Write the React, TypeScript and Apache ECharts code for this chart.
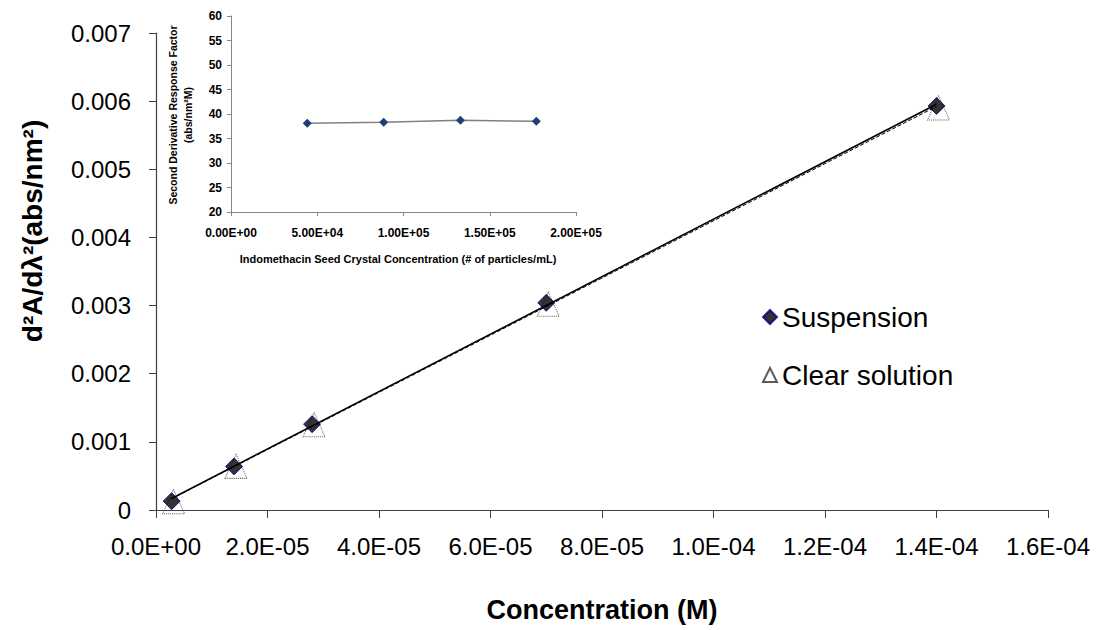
import React, { useEffect, useRef } from "react";
import * as echarts from "echarts";

// Main chart data
const concentrations = [2.8e-6, 1.4e-5, 2.8e-5, 7.0e-5, 1.4e-4];
const suspensionValues = [0.00013, 0.00064, 0.00126, 0.00304, 0.00593];
const clearSolutionValues = [0.00012, 0.00064, 0.00125, 0.00302, 0.0059];
const xTickLabels = ["0.0E+00", "2.0E-05", "4.0E-05", "6.0E-05", "8.0E-05", "1.0E-04", "1.2E-04", "1.4E-04", "1.6E-04"];
const yTickLabels = ["0", "0.001", "0.002", "0.003", "0.004", "0.005", "0.006", "0.007"];

// Inset data
const seedConcentrations = [44200, 88500, 133000, 177000];
const responseFactors = [38.1, 38.3, 38.7, 38.5];
const insetXTickLabels = ["0.00E+00", "5.00E+04", "1.00E+05", "1.50E+05", "2.00E+05"];
const insetYTickLabels = ["20", "25", "30", "35", "40", "45", "50", "55", "60"];

function fitLine(xs: number[], ys: number[]): number[][] {
  const n = xs.length;
  const mx = xs.reduce((a, b) => a + b, 0) / n;
  const my = ys.reduce((a, b) => a + b, 0) / n;
  let sxy = 0, sxx = 0;
  for (let i = 0; i < n; i++) {
    sxy += (xs[i] - mx) * (ys[i] - my);
    sxx += (xs[i] - mx) * (xs[i] - mx);
  }
  const b = sxy / sxx;
  const a = my - b * mx;
  const x0 = xs[0], x1 = xs[n - 1];
  return [[x0, a + b * x0], [x1, a + b * x1]];
}

const FONT = "Liberation Sans, Arial, sans-serif";

export default function App() {
  const ref = useRef<HTMLDivElement>(null);
  useEffect(() => {
    if (!ref.current) return;
    const chart = echarts.init(ref.current, undefined, { renderer: "svg" });
    const option: any = {
      animation: false,
      backgroundColor: "#ffffff",
      textStyle: { fontFamily: FONT },
      grid: [
        { left: 156, top: 33, width: 892, height: 477, containLabel: false },
        { left: 231, top: 16, width: 345, height: 196, containLabel: false },
      ],
      xAxis: [
        {
          type: "value", gridIndex: 0, min: 0, max: 1.6e-4, interval: 2e-5,
          splitLine: { show: false },
          axisLine: { show: true, lineStyle: { color: "#404040", width: 1.2 } },
          axisTick: { show: true, inside: false, length: 8, lineStyle: { color: "#404040" } },
          axisLabel: {
            fontSize: 24, color: "#000", fontFamily: FONT, margin: 24,
            formatter: (_v: number, i: number) => xTickLabels[i] ?? "",
          },
        },
        {
          type: "value", gridIndex: 1, min: 0, max: 2e5, interval: 5e4,
          splitLine: { show: false },
          axisLine: { show: true, lineStyle: { color: "#888888", width: 1 } },
          axisTick: { show: true, inside: false, length: 4, lineStyle: { color: "#888888" } },
          axisLabel: {
            fontSize: 12, fontWeight: "bold", color: "#000", fontFamily: FONT, margin: 15,
            formatter: (_v: number, i: number) => insetXTickLabels[i] ?? "",
          },
        },
      ],
      yAxis: [
        {
          type: "value", gridIndex: 0, min: 0, max: 0.007, interval: 0.001,
          splitLine: { show: false },
          axisLine: { show: true, lineStyle: { color: "#404040", width: 1.2 } },
          axisTick: { show: true, inside: false, length: 7, lineStyle: { color: "#404040" } },
          axisLabel: {
            fontSize: 24, color: "#000", fontFamily: FONT, margin: 25,
            formatter: (_v: number, i: number) => yTickLabels[i] ?? "",
          },
        },
        {
          type: "value", gridIndex: 1, min: 20, max: 60, interval: 5,
          splitLine: { show: false },
          axisLine: { show: true, lineStyle: { color: "#888888", width: 1 } },
          axisTick: { show: true, inside: false, length: 4, lineStyle: { color: "#888888" } },
          axisLabel: {
            fontSize: 12, fontWeight: "bold", color: "#000", fontFamily: FONT, margin: 9,
            formatter: (_v: number, i: number) => insetYTickLabels[i] ?? "",
          },
        },
      ],
      legend: {
        orient: "vertical",
        left: 757,
        top: 298,
        itemWidth: 14,
        itemHeight: 14,
        itemGap: 30,
        textStyle: { fontSize: 28, color: "#000", fontFamily: FONT },
        data: [
          { name: "Suspension", icon: "diamond" },
          { name: "Clear solution", icon: "triangle" },
        ],
      },
      series: [
        {
          type: "line", xAxisIndex: 0, yAxisIndex: 0, silent: true,
          data: fitLine(concentrations, suspensionValues),
          symbol: "none",
          lineStyle: { color: "#000", width: 1.6, type: "solid" },
          z: 2,
        },
        {
          type: "line", xAxisIndex: 0, yAxisIndex: 0, silent: true,
          data: fitLine(concentrations, clearSolutionValues),
          symbol: "none",
          lineStyle: { color: "#000", width: 1, type: [4, 2] },
          z: 2,
        },
        {
          name: "Clear solution", type: "scatter", xAxisIndex: 0, yAxisIndex: 0,
          data: concentrations.map((x, i) => [x, clearSolutionValues[i]]),
          symbol: "triangle", symbolSize: [22, 24], symbolOffset: [2, 0],
          itemStyle: { color: "rgba(255,255,255,0)", borderColor: "#333", borderWidth: 1, borderType: "dotted" },
          z: 3,
        },
        {
          name: "Suspension", type: "scatter", xAxisIndex: 0, yAxisIndex: 0,
          data: concentrations.map((x, i) => [x, suspensionValues[i]]),
          symbol: "diamond", symbolSize: 17,
          itemStyle: { color: "#000000", borderColor: "#000080", borderWidth: 1 },
          z: 4,
        },
        {
          name: "Response factor", type: "line", xAxisIndex: 1, yAxisIndex: 1,
          data: seedConcentrations.map((x, i) => [x, responseFactors[i]]),
          symbol: "diamond", symbolSize: 9,
          itemStyle: { color: "#1F3F77" },
          lineStyle: { color: "#808080", width: 1.5 },
        },
      ],
      graphic: [
        {
          type: "text", x: 32, y: 231, rotation: Math.PI / 2,
          style: {
            text: "d²A/dλ²(abs/nm²)", fontSize: 28, fontWeight: "bold", fontFamily: FONT,
            fill: "#000", align: "center", verticalAlign: "middle",
          },
        },
        {
          type: "text", x: 602, y: 610,
          style: {
            text: "Concentration (M)", fontSize: 27, fontWeight: "bold", fontFamily: FONT,
            fill: "#000", align: "center", verticalAlign: "middle",
          },
        },
        {
          type: "text", x: 398, y: 259,
          style: {
            text: "Indomethacin Seed Crystal Concentration (# of particles/mL)", fontSize: 11, fontWeight: "bold", fontFamily: FONT,
            fill: "#000", align: "center", verticalAlign: "middle",
          },
        },
        {
          type: "text", x: 180.5, y: 115, rotation: Math.PI / 2,
          style: {
            text: "Second Derivative Response Factor\n(abs/nm²M)", fontSize: 10.5, fontWeight: "bold", fontFamily: FONT,
            lineHeight: 15, fill: "#000", align: "center", verticalAlign: "middle",
          },
        },
      ],
    };
    chart.setOption(option);
    return () => chart.dispose();
  }, []);
  return (
    <div
      ref={ref}
      style={{ position: "fixed", left: 0, top: 0, width: 1096, height: 630, background: "#fff" }}
    />
  );
}
